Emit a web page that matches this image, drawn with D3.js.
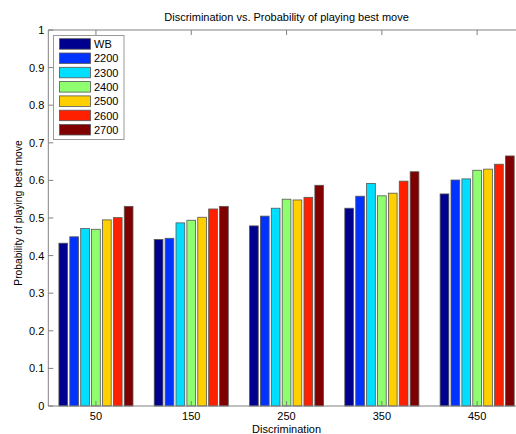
<!DOCTYPE html>
<html>
<head>
<meta charset="utf-8">
<script src="https://cdn.jsdelivr.net/npm/d3@7"></script>
<style>
  html, body { margin: 0; padding: 0; background: #fff; }
  svg { display: block; font-family: Arial, "Liberation Sans", Helvetica, sans-serif; }
</style>
</head>
<body>
<svg id="chart" width="516" height="434"></svg>
<script>
// Discrimination levels (x categories)
const discrimination = [50, 150, 250, 350, 450];
// Rating groups (series)
const series = ["WB", "2200", "2300", "2400", "2500", "2600", "2700"];
const seriesColors = ["#00008f", "#0033ff", "#00dfff", "#8fff70", "#ffcf00", "#ff2000", "#800000"];
// Probability of playing the best move, one array per series, by discrimination level
const valWB   = [0.433, 0.443, 0.479, 0.526, 0.564];
const val2200 = [0.450, 0.446, 0.505, 0.558, 0.601];
const val2300 = [0.472, 0.487, 0.526, 0.592, 0.604];
const val2400 = [0.470, 0.494, 0.550, 0.559, 0.627];
const val2500 = [0.495, 0.502, 0.548, 0.566, 0.630];
const val2600 = [0.501, 0.524, 0.555, 0.598, 0.643];
const val2700 = [0.531, 0.531, 0.587, 0.623, 0.665];
const seriesValues = [valWB, val2200, val2300, val2400, val2500, val2600, val2700];
const yTicks = [0, 0.1, 0.2, 0.3, 0.4, 0.5, 0.6, 0.7, 0.8, 0.9, 1];

const svg = d3.select("#chart");
const plotLeft = 48.3, plotRight = 524.8, plotTop = 30, plotBottom = 406;

const x = d3.scaleLinear().domain([0, 500]).range([plotLeft, plotRight]);
const y = d3.scaleLinear().domain([0, 1]).range([plotBottom, plotTop]);

// Grouped bar geometry: group spans 0.8 of category spacing
const groupWidth = 80;
const slot = groupWidth / series.length;
const barFrac = 0.8;

const axisColor = "#808080";
const fontSize = 11;

// Bars
series.forEach((name, si) => {
  svg.append("g").selectAll("rect")
    .data(discrimination.map((d, i) => ({ d, v: seriesValues[si][i] })))
    .join("rect")
    .attr("x", p => x(p.d - groupWidth / 2 + si * slot + slot * (1 - barFrac) / 2))
    .attr("width", p => x(slot * barFrac) - x(0))
    .attr("y", p => y(p.v))
    .attr("height", p => y(0) - y(p.v))
    .attr("fill", seriesColors[si])
    .attr("stroke", "#555")
    .attr("stroke-width", 0.8);
});

// Axes box
const tickLen = 5;
const axisG = svg.append("g").attr("stroke", axisColor).attr("fill", "none").attr("stroke-width", 1);
axisG.append("line").attr("x1", plotLeft).attr("x2", plotRight).attr("y1", plotBottom).attr("y2", plotBottom);
axisG.append("line").attr("x1", plotLeft).attr("x2", plotRight).attr("y1", plotTop).attr("y2", plotTop);
axisG.append("line").attr("x1", plotLeft).attr("x2", plotLeft).attr("y1", plotTop).attr("y2", plotBottom);
axisG.append("line").attr("x1", plotRight).attr("x2", plotRight).attr("y1", plotTop).attr("y2", plotBottom);

// Y ticks (inward, both sides)
yTicks.forEach(t => {
  axisG.append("line").attr("x1", plotLeft).attr("x2", plotLeft + tickLen).attr("y1", y(t)).attr("y2", y(t));
  axisG.append("line").attr("x1", plotRight).attr("x2", plotRight - tickLen).attr("y1", y(t)).attr("y2", y(t));
});
// X ticks (inward, top and bottom)
discrimination.forEach(t => {
  axisG.append("line").attr("x1", x(t)).attr("x2", x(t)).attr("y1", plotBottom).attr("y2", plotBottom - tickLen);
  axisG.append("line").attr("x1", x(t)).attr("x2", x(t)).attr("y1", plotTop).attr("y2", plotTop + tickLen);
});

// Tick labels
svg.append("g").selectAll("text").data(yTicks).join("text")
  .attr("x", plotLeft - 4).attr("y", t => y(t) + 4)
  .attr("text-anchor", "end").attr("font-size", fontSize).attr("fill", "#000")
  .text(t => t === 0 || t === 1 ? String(t) : t.toFixed(1));

svg.append("g").selectAll("text").data(discrimination).join("text")
  .attr("x", t => x(t)).attr("y", 419.5)
  .attr("text-anchor", "middle").attr("font-size", fontSize).attr("fill", "#000")
  .text(t => t);

// Axis titles
const centerX = (plotLeft + plotRight) / 2;
svg.append("text").attr("x", centerX).attr("y", 20.5)
  .attr("text-anchor", "middle").attr("font-size", fontSize).text("Discrimination vs. Probability of playing best move");
svg.append("text").attr("x", centerX).attr("y", 433)
  .attr("text-anchor", "middle").attr("font-size", fontSize).text("Discrimination");
svg.append("text")
  .attr("transform", "translate(22,213) rotate(-90)")
  .attr("text-anchor", "middle").attr("font-size", 10.3).text("Probability of playing best move");

// Legend
const legend = svg.append("g");
legend.append("rect").attr("x", 53.5).attr("y", 35.5).attr("width", 70.5).attr("height", 104)
  .attr("fill", "#fff").attr("stroke", "#999").attr("stroke-width", 1);
series.forEach((name, i) => {
  const ry = 38.7 + i * 14.3;
  legend.append("rect").attr("x", 59.5).attr("y", ry).attr("width", 31).attr("height", 10.5)
    .attr("fill", seriesColors[i]).attr("stroke", "#555").attr("stroke-width", 0.8);
  legend.append("text").attr("x", 94).attr("y", ry + 9.3).attr("font-size", fontSize).text(name);
});
</script>
</body>
</html>
